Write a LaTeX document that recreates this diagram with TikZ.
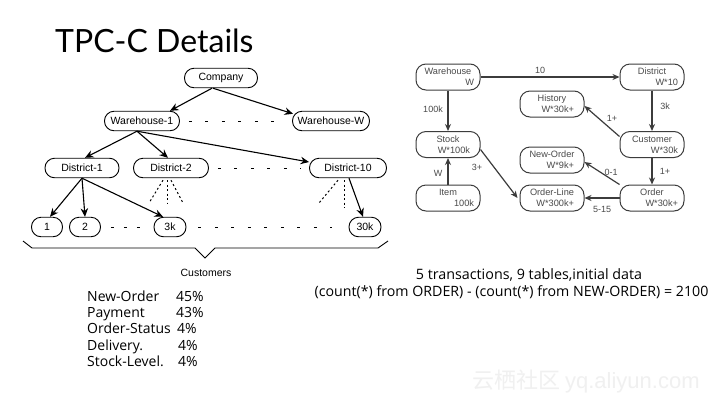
\documentclass[tikz,border=0pt]{standalone}
\usepackage{fontspec}
\setmainfont{Open Sans}
\newfontfamily\arialf{Liberation Sans}
\newfontfamily\titlef{Lato}
\newfontfamily\cjkf{Noto Sans CJK SC}
\usetikzlibrary{arrows.meta,calc}
\definecolor{rline}{HTML}{3C3C3C}
\definecolor{rtext}{HTML}{4A4A4A}
\newcommand{\twoln}[3][52pt]{\makebox[#1][c]{#2}\\\makebox[#1][r]{#3}}
\begin{document}
\begin{tikzpicture}[x=1pt,y=-1pt,
  tn/.style={draw=black, line width=0.9pt, rounded corners=9.5pt, minimum height=19.5pt, inner sep=0pt, font=\arialf\fontsize{10.5}{12}\selectfont},
  tarr/.style={line width=1.1pt, -{Stealth[length=8.5pt,width=7.5pt]}},
  dashpat/.style={line width=1pt, dash pattern=on 3pt off 13.5pt},
  dotpat/.style={line width=1pt, dash pattern=on 2pt off 2.5pt},
  rn/.style={draw=rline, line width=1pt, rounded corners=10pt, minimum width=64pt, minimum height=26pt, inner sep=0pt, text=rtext, align=center, font=\arialf\fontsize{9.2}{11}\selectfont},
  rarr/.style={draw=rline, line width=1.2pt, -{Stealth[length=7pt,width=6pt]}},
  rlab/.style={text=rtext, font=\arialf\fontsize{9}{10}\selectfont, inner sep=0pt},
  bt/.style={inner sep=0pt, font=\fontsize{14}{16}\selectfont},
]
\useasboundingbox (0,0) rectangle (720,405);
\fill[white] (0,0) rectangle (720,405);

% title
\node[anchor=base west, inner sep=0pt, font=\titlef\fontsize{32}{38}\selectfont] (title) at (55,52) {TPC-C Details};

% left tree
\node[tn, minimum width=73pt] (comp) at (221,78) {Company};
\node[tn, minimum width=75pt] (wh1) at (142,121) {Warehouse-1};
\node[tn, minimum width=77pt] (whW) at (331,121) {Warehouse-W};
\node[tn, minimum width=74pt] (d1) at (82,168) {District-1};
\node[tn, minimum width=75pt] (d2) at (171,168) {District-2};
\node[tn, minimum width=77pt] (d10) at (348,168) {District-10};
\node[tn, minimum width=31pt] (c1) at (47,227) {1};
\node[tn, minimum width=31pt] (c2) at (85,227) {2};
\node[tn, minimum width=32pt] (c3k) at (170,227) {3k};
\node[tn, minimum width=32pt] (c30k) at (365,227) {30k};

\draw[tarr] ([xshift=-9pt]comp.south) -- ([xshift=28pt]wh1.north);
\draw[tarr] ([xshift=-8pt]comp.south) -- ([xshift=1pt,yshift=-3pt]whW.north west);
\draw[tarr] ([xshift=-5pt]wh1.south) -- ([xshift=3pt]d1.north);
\draw[tarr] ([xshift=-5pt]wh1.south) -- ([xshift=-3pt]d2.north);
\draw[tarr] ([xshift=-5pt]wh1.south) -- ([yshift=6pt]d10.west);
\draw[tarr] (d1.south) -- ([xshift=3pt]c1.north);
\draw[tarr] (d1.south) -- (c2.north);
\draw[tarr] (d1.south) -- ([xshift=-7pt]c3k.north);
\draw[tarr] ([xshift=1pt]d10.south) -- ([xshift=-2pt]c30k.north);

\draw[dashpat, shorten <=9pt, shorten >=6pt] (wh1) -- (whW);
\draw[dashpat, shorten <=9pt, shorten >=8pt] (d2) -- (d10);
\draw[dashpat, dash pattern=on 3pt off 10pt, shorten <=10pt, shorten >=4pt] (c2) -- (c3k);
\draw[dashpat, shorten <=12pt, shorten >=17pt] (c3k) -- (c30k);

\coordinate (d2a) at (149,203);
\coordinate (d2b) at (167,203);
\coordinate (d2c) at (183,203);
\coordinate (d10a) at (319,203);
\coordinate (d10b) at (344,208);
\draw[dotpat] ([xshift=-8pt,yshift=-2pt]d2.south) -- (d2a);
\draw[dotpat] ([xshift=-4pt,yshift=-2pt]d2.south) -- (d2b);
\draw[dotpat] ([xshift=0pt,yshift=-2pt]d2.south) -- (d2c);
\draw[dotpat] ([xshift=-10pt,yshift=-2pt]d10.south) -- (d10a);
\draw[dotpat] ([xshift=-4pt,yshift=-2pt]d10.south) -- (d10b);

\draw[line width=0.9pt] (23,241) -- (32,248) -- (195,248) -- (205,258) -- (215,248) -- (378,248) -- (388,241);
\node[font=\arialf\fontsize{10.5}{12}\selectfont, inner sep=0pt] (cust) at (206,273) {Customers};

% right diagram
\node[rn] (rwh) at (448,77) {\twoln{Warehouse}{W}};
\node[rn] (rdist) at (652,77) {\twoln{District}{W*10}};
\node[rn] (rhist) at (552,104) {\twoln[44pt]{History}{W*30k+}};
\node[rn] (rstock) at (448,144.5) {\twoln[44pt]{Stock}{W*100k}};
\node[rn] (rcust) at (652,144.5) {\twoln{Customer}{W*30k}};
\node[rn] (rnord) at (552,160) {\twoln[44pt]{New-Order}{W*9k+}};
\node[rn] (ritem) at (448,198) {\twoln{Item}{100k}};
\node[rn] (rol) at (552,198) {\twoln[44pt]{Order-Line}{W*300k+}};
\node[rn] (rord) at (652,198) {\twoln{Order}{W*30k+}};

\draw[rarr] (rwh) -- (rdist);
\draw[rarr] (rwh) -- (rstock);
\draw[rarr] (rdist) -- (rcust);
\draw[rarr] ([yshift=8pt]rcust.west) -- ([yshift=-2pt]rhist.east);
\draw[rarr] (rcust) -- (rord);
\draw[rarr] (rord.north west) -- ([yshift=-2pt]rnord.east);
\draw[rarr] (rord) -- (rol);
\draw[rarr] ([yshift=-5pt]rstock.east) -- ([xshift=-2pt]rol.west);
\draw[rarr] (ritem) -- (rstock);

\node[rlab] (l10) at (540,70) {10};
\node[rlab] (l100k) at (433,109) {100k};
\node[rlab] (l3k) at (665,106) {3k};
\node[rlab] (l1a) at (612,118) {1+};
\node[rlab] (l1b) at (665,171) {1+};
\node[rlab] (l01) at (611,172) {0-1};
\node[rlab] (l515) at (602,209) {5-15};
\node[rlab] (l3p) at (477,167) {3+};
\node[rlab] (lW) at (438,173) {W};

% bottom texts
\node[bt, anchor=base, font=\fontsize{14.3}{17}\selectfont] (t1) at (529,279) {5 transactions, 9 tables,initial data};
\node[bt, anchor=base, font=\fontsize{14.2}{17}\selectfont] (t2) at (511.5,296) {(count(*) from ORDER) - (count(*) from NEW-ORDER) = 2100};

\node[bt, anchor=base west] (r1) at (87,301) {\makebox[89pt][l]{New-Order}45\%};
\node[bt, anchor=base west] (r2) at (87,317) {\makebox[89pt][l]{Payment}43\%};
\node[bt, anchor=base west] (r3) at (87,333) {\makebox[90pt][l]{Order-Status}4\%};
\node[bt, anchor=base west] (r4) at (87,350) {\makebox[91pt][l]{Delivery.}4\%};
\node[bt, anchor=base west] (r5) at (87,366) {\makebox[91pt][l]{Stock-Level.}4\%};

% watermark
\node[anchor=west, inner sep=0pt, text=black!6, font=\cjkf\fontsize{22}{26}\selectfont] (wm) at (472,382) {云栖社区 {\arialf yq.aliyun.com}};
\end{tikzpicture}
\end{document}
